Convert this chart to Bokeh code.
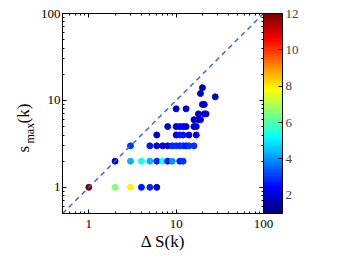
import numpy as np
from bokeh.plotting import figure
from bokeh.layouts import row
from bokeh.models import (ColumnDataSource, LinearColorMapper, ColorBar, FixedTicker,
                          LogAxis, Slope, Label, NumeralTickFormatter, Range1d)
from bokeh.embed import file_html
from bokeh.resources import INLINE

# ---- data ----
delta_s = [1, 2, 3, 4, 5, 6,
           2, 3, 4, 5, 6, 7, 8, 9, 11, 12,
           3, 5, 6, 7, 8, 9, 10, 11, 12, 13, 14, 16,
           6, 10, 11, 12, 14, 17,
           8, 10, 11, 12, 13, 16, 17,
           16, 18, 19,
           18, 21, 22,
           10, 13,
           20, 21,
           28, 19, 20]
s_max = [1, 1, 1, 1, 1, 1,
         2, 2, 2, 2, 2, 2, 2, 2, 2, 2,
         3, 3, 3, 3, 3, 3, 3, 3, 3, 3, 3, 3,
         4, 4, 4, 4, 4, 4,
         5, 5, 5, 5, 5, 5, 5,
         6, 6, 6,
         7, 7, 7,
         8, 8,
         9, 9,
         11, 12, 14]
counts = [12, 6.5, 8, 2.6, 2.8, 1.8,
          1.8, 4.3, 5.3, 4.3, 2.8, 5.3, 2.6, 4.0, 2.8, 3.0,
          3.0, 2.6, 2.0, 2.0, 2.0, 2.8, 3.0, 2.8, 3.0, 2.6, 3.0, 3.0,
          2.0, 2.2, 2.6, 2.6, 2.2, 2.2,
          2.0, 2.2, 2.4, 2.4, 2.0, 2.2, 2.0,
          2.0, 2.0, 2.0,
          2.0, 2.0, 2.0,
          2.0, 2.0,
          2.0, 2.0,
          1.8, 1.8, 1.8]
major_ticks = [1, 10, 100]
minor_ticks = [0.5, 0.6, 0.7, 0.8, 0.9, 2, 3, 4, 5, 6, 7, 8, 9,
               20, 30, 40, 50, 60, 70, 80, 90]
cbar_ticks = [2, 4, 6, 8, 10, 12]


def jet(n):
    out = []
    for i in range(n):
        x = i / (n - 1)
        r = np.clip(min(4 * x - 1.5, -4 * x + 4.5), 0, 1)
        g = np.clip(min(4 * x - 0.5, -4 * x + 3.5), 0, 1)
        b = np.clip(min(4 * x + 0.5, -4 * x + 2.5), 0, 1)
        out.append("#%02x%02x%02x" % (int(r * 255), int(g * 255), int(b * 255)))
    return out


FONT = "Liberation Serif"
LABEL_W = 35
src = ColumnDataSource(dict(x=delta_s, y=s_max, c=counts))
mapper = LinearColorMapper(palette=jet(64), low=1, high=12)

p = figure(width=346 - LABEL_W, height=271, x_axis_type="log", y_axis_type="log",
           x_range=(0.5, 100), y_range=(0.5, 100), title=None,
           output_backend="svg", toolbar_location=None,
           min_border_left=62 - LABEL_W, min_border_right=83, min_border_top=13,
           min_border_bottom=58)
p.grid.visible = False
p.outline_line_color = "black"
p.background_fill_color = "white"
p.border_fill_color = "white"

def style_axis(ax):
    ax.ticker = FixedTicker(ticks=major_ticks, minor_ticks=minor_ticks)
    ax.formatter = NumeralTickFormatter(format="0")
    ax.axis_line_color = "black"
    ax.major_tick_in = 4
    ax.major_tick_out = 0
    ax.minor_tick_in = 2
    ax.minor_tick_out = 0
    ax.major_tick_line_color = "black"
    ax.minor_tick_line_color = "black"
    ax.major_label_text_font = FONT
    ax.major_label_text_font_size = "13px"
    ax.major_label_text_color = "black"

for ax in p.xaxis + p.yaxis:
    style_axis(ax)
p.xaxis.major_label_standoff = 6
p.yaxis.major_label_standoff = 2
p.xaxis.axis_label = "Δ S(k)"
p.xaxis.axis_label_text_font = FONT
p.xaxis.axis_label_text_font_size = "17px"
p.xaxis.axis_label_text_font_style = "normal"
p.xaxis.axis_label_standoff = 1
p.xaxis.axis_label_text_color = "black"

top = LogAxis()
style_axis(top)
top.major_label_text_color = None
top.major_label_text_font_size = "1px"
top.major_label_standoff = 0
p.add_layout(top, "above")
right = LogAxis()
style_axis(right)
right.major_label_text_color = None
right.major_label_text_font_size = "1px"
right.major_label_standoff = 24
p.add_layout(right, "right")

p.add_layout(Slope(gradient=1, y_intercept=0, line_color="#3a5cf0",
                   line_width=1.4, line_dash="5 4"))

p.scatter("x", "y", source=src, size=6,
          fill_color={"field": "c", "transform": mapper},
          line_color={"field": "c", "transform": mapper})

cb = ColorBar(color_mapper=mapper, ticker=FixedTicker(ticks=cbar_ticks),
              width=19, padding=0, margin=0, bar_line_color="black",
              major_tick_in=4, major_tick_out=0, major_tick_line_color="black",
              label_standoff=3, major_label_text_font=FONT,
              major_label_text_font_size="13px", border_line_color=None,
              background_fill_color="white")
p.add_layout(cb, "right")

# narrow strip holding the rotated y label s_max(k)
lab = figure(width=LABEL_W, height=271, x_range=Range1d(0, 1),
             y_range=Range1d(0, 1), title=None, output_backend="svg",
             toolbar_location=None, min_border=0, x_axis_type=None,
             y_axis_type=None, outline_line_color=None)
lab.grid.visible = False
# positions in px from the strip frame's bottom-left (frame aligned with the plot's)
for txt, yy, xx, sz in [("s", 61, 23, "17px"), ("max", 70, 29, "12px"),
                        ("(k)", 90, 23, "17px")]:
    lab.add_layout(Label(x=xx, y=yy, x_units="screen", y_units="screen", text=txt,
                         angle=np.pi / 2, text_font=FONT, text_font_size=sz,
                         text_align="left", text_baseline="alphabetic",
                         text_color="black"))

layout = row(lab, p, spacing=0)
open("out.html", "w").write(file_html(layout, INLINE))
